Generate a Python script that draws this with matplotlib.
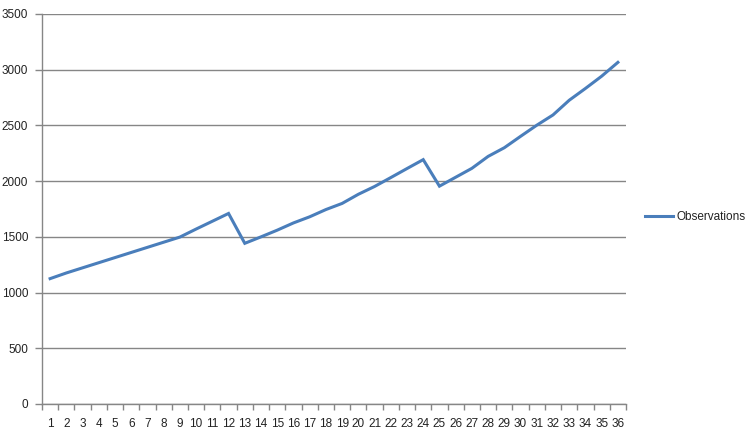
import matplotlib
matplotlib.use("Agg")
import matplotlib.pyplot as plt
import numpy as np

categories = list(range(1, 37))
observations = [1125, 1176, 1222, 1268, 1314, 1360, 1406, 1452, 1498, 1570, 1640, 1710,
                1442, 1500, 1560, 1625, 1680, 1745, 1800, 1882, 1952, 2032, 2113, 2193,
                1955, 2035, 2115, 2222, 2300, 2402, 2502, 2594, 2726, 2832, 2942, 3066]
y_ticks = [0, 500, 1000, 1500, 2000, 2500, 3000, 3500]

plt.rcParams['font.family'] = ['Liberation Sans', 'DejaVu Sans']
fig = plt.figure(figsize=(7.51, 4.29), dpi=100)
ax = fig.add_axes([42/751, 1-404/429, (626-42)/751, (404-14)/429])

grid_c = '#868686'
ax.plot(categories, observations, color='#4a7ebb', lw=2.2, label='Observations',
        solid_joinstyle='miter')
ax.set_xlim(0.5, 36.5)
ax.set_ylim(0, 3500)
ax.set_yticks(y_ticks)
ax.yaxis.grid(True, color=grid_c, lw=1)
ax.set_axisbelow(True)
ax.set_xticks(categories)
ax.set_xticklabels([str(c) for c in categories])
ax.set_xticks(np.arange(0.5, 37, 1), minor=True)
ax.tick_params(axis='x', which='major', length=0, pad=10, labelsize=8.5, labelcolor='#222222')
ax.tick_params(axis='x', which='minor', length=4, color=grid_c, width=1)
ax.tick_params(axis='y', length=5, color=grid_c, width=1, labelsize=8.5, pad=5,
               labelcolor='#222222')
for s in ['top', 'right']:
    ax.spines[s].set_visible(False)
for s in ['left', 'bottom']:
    ax.spines[s].set_color(grid_c)
    ax.spines[s].set_linewidth(1)

leg = fig.legend(loc='center left', bbox_to_anchor=(634/751, 1-217/429), frameon=False,
                 fontsize=8.5, handlelength=2.4, handletextpad=0.3, labelcolor='#222222')
fig.savefig('out.png', dpi=100)
